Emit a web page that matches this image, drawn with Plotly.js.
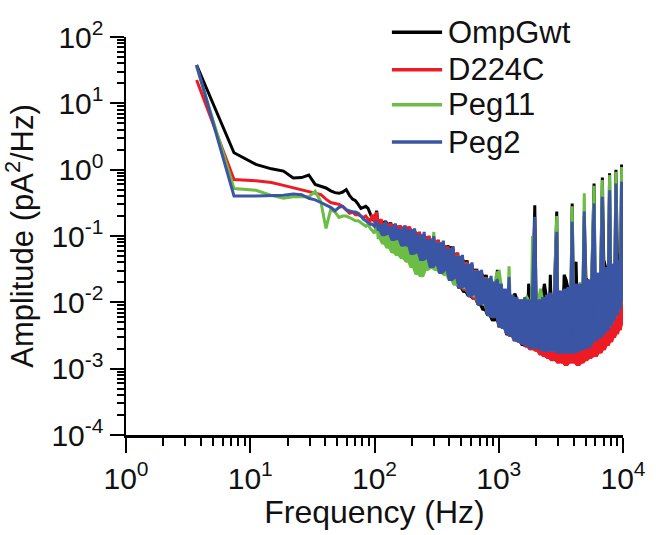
<!DOCTYPE html>
<html><head><meta charset="utf-8">
<script src="https://cdn.plot.ly/plotly-3.0.1.min.js"></script>
<style>html,body{margin:0;padding:0;background:#fff;} #chart{width:656px;height:535px;}</style>
</head><body><div id="chart"></div>
<script>
const seriesNames = ['OmpGwt', 'D224C', 'Peg11', 'Peg2'];
const seriesColors = ['#000000', '#ed1c24', '#6cbd45', '#3b55a5'];

const freqLow = [3.7,7.4,11.1,14.8,18.5,22.2,25.9,29.6,33.3,37,40.7,44.4,48.1,51.8,55.5,59.2,62.9,66.6,70.3,74,77.7,81.4,85.1,88.8,92.5,96.2,99.9];
const freqMid = [104,108,113,118,123,129,135,141,147,154,161,168,176,184,192,201,210,220,230,240,251,262,274,287,300,313,327,342,358,374,391,409,427,447,467,488,510,533,557,583,609,637,665,695,727,760,794,830,867,907,948];
const freqHigh = [975,1010,1050,1090,1130,1170,1210,1260,1300,1350,1400,1450,1510,1560,1620,1680,1740,1810,1870,1950,2020,2090,2170,2250,2330,2420,2510,2600,2700,2800,2930,3010,3120,3240,3360,3480,3610,3750,3900,4040,4190,4350,4510,4680,4880,5030,5220,5410,5610,5850,6030,6250,6480,6820,7000,7260,7520,7800,8020,8320,8530,8770,9000,9250,9500,9750,9950];

const ompLow = [37.8,1.8,1.2,1.03,0.95,0.75,0.76,0.83,0.6,0.56,0.53,0.48,0.45,0.44,0.46,0.5,0.41,0.36,0.34,0.3,0.26,0.27,0.28,0.26,0.22,0.18,0.17];
const ompMid = [0.24,0.13,0.17,0.12,0.17,0.1,0.16,0.075,0.15,0.085,0.14,0.075,0.135,0.065,0.13,0.058,0.12,0.05,0.115,0.045,0.1,0.04,0.1,0.036,0.09,0.032,0.085,0.029,0.075,0.026,0.072,0.022,0.07,0.019,0.056,0.016,0.048,0.014,0.043,0.012,0.037,0.011,0.032,0.009,0.029,0.0075,0.026,0.0062,0.022,0.0052,0.02];
const ompHigh = [0.031,0.0048,0.018,0.004,0.015,0.0032,0.02,0.003,0.012,0.0135,0.011,0.0025,0.01,0.0022,0.011,0.0021,0.019,0.012,0.011,0.29,0.0019,0.011,0.0017,0.012,0.019,0.012,0.0017,0.026,0.0016,0.013,0.233,0.0016,0.014,0.0017,0.026,0.022,0.016,0.0016,0.31,0.0017,0.041,0.0018,0.018,0.0018,0.2,0.023,0.021,0.014,0.024,0.62,0.0024,0.027,0.0027,0.76,0.044,0.033,0.0034,0.88,0.004,0.037,0.0046,1.0,0.055,0.042,0.0072,1.2,0.01];

const d224Low = [22.5,0.71,0.68,0.64,0.58,0.53,0.5,0.47,0.44,0.42,0.36,0.32,0.31,0.3,0.28,0.25,0.22,0.23,0.21,0.21,0.2,0.19,0.2,0.18,0.17,0.21,0.16];
const d224Mid = [0.23,0.13,0.18,0.115,0.16,0.1,0.155,0.09,0.15,0.085,0.145,0.08,0.14,0.07,0.14,0.06,0.125,0.052,0.115,0.046,0.105,0.042,0.1,0.037,0.092,0.034,0.088,0.03,0.08,0.027,0.07,0.023,0.066,0.02,0.055,0.017,0.048,0.015,0.041,0.013,0.036,0.011,0.031,0.0095,0.028,0.009,0.024,0.0065,0.021,0.0058,0.019];
const d224High = [0.02,0.0042,0.018,0.004,0.015,0.0033,0.016,0.003,0.012,0.0026,0.011,0.0025,0.011,0.0023,0.011,0.0021,0.011,0.0019,0.011,0.1,0.0018,0.011,0.0016,0.012,0.0015,0.012,0.0014,0.013,0.0013,0.013,0.08,0.0012,0.014,0.0012,0.015,0.0011,0.016,0.0012,0.1,0.0012,0.017,0.0011,0.018,0.0012,0.12,0.0013,0.02,0.0014,0.022,0.15,0.0015,0.025,0.0017,0.18,0.0019,0.03,0.0022,0.22,0.0025,0.034,0.0029,0.3,0.0033,0.038,0.0038,0.33,0.0045];

const peg11Low = [35.7,0.52,0.49,0.41,0.37,0.39,0.39,0.39,0.47,0.33,0.13,0.25,0.23,0.19,0.2,0.2,0.19,0.18,0.17,0.17,0.16,0.15,0.14,0.15,0.13,0.12,0.11];
const peg11Mid = [0.15,0.09,0.14,0.075,0.13,0.065,0.14,0.055,0.12,0.05,0.13,0.045,0.12,0.04,0.12,0.033,0.11,0.026,0.1,0.024,0.1,0.03,0.09,0.032,0.115,0.03,0.08,0.027,0.065,0.025,0.06,0.021,0.058,0.018,0.05,0.017,0.044,0.016,0.038,0.013,0.034,0.012,0.03,0.0095,0.026,0.009,0.023,0.0065,0.021,0.006,0.024];
const peg11High = [0.028,0.029,0.017,0.0041,0.014,0.0034,0.035,0.0031,0.012,0.0027,0.011,0.0026,0.01,0.0024,0.011,0.012,0.0105,0.0021,0.1,0.02,0.0021,0.011,0.016,0.011,0.0019,0.0085,0.0019,0.013,0.0018,0.013,0.2,0.0018,0.014,0.0018,0.015,0.0018,0.016,0.0018,0.28,0.0018,0.018,0.0019,0.02,0.002,0.44,0.0021,0.021,0.0022,0.024,0.57,0.0027,0.027,0.003,0.7,0.0034,0.032,0.0039,0.83,0.0046,0.037,0.0056,0.93,0.0066,0.042,0.0082,1.1,0.0106];

const peg2Low = [37.8,0.4,0.4,0.4,0.41,0.43,0.42,0.37,0.35,0.32,0.29,0.27,0.24,0.27,0.28,0.25,0.24,0.23,0.23,0.22,0.2,0.18,0.17,0.16,0.15,0.15,0.14];
const peg2Mid = [0.17,0.12,0.15,0.1,0.165,0.105,0.14,0.085,0.155,0.088,0.13,0.07,0.145,0.07,0.125,0.052,0.13,0.055,0.105,0.042,0.115,0.045,0.09,0.033,0.1,0.036,0.08,0.027,0.085,0.03,0.065,0.021,0.07,0.023,0.05,0.016,0.052,0.017,0.038,0.012,0.04,0.013,0.03,0.009,0.031,0.0095,0.023,0.0062,0.025,0.0058,0.02];
const peg2High = [0.022,0.0042,0.019,0.004,0.016,0.0033,0.024,0.003,0.013,0.0026,0.012,0.0025,0.011,0.0023,0.012,0.0022,0.011,0.002,0.012,0.195,0.002,0.011,0.0019,0.012,0.0018,0.013,0.0018,0.014,0.0018,0.013,0.116,0.0017,0.015,0.0017,0.016,0.0017,0.017,0.0017,0.164,0.0017,0.019,0.0018,0.019,0.0019,0.233,0.002,0.022,0.0021,0.025,0.31,0.0026,0.028,0.0029,0.39,0.0033,0.034,0.0038,0.49,0.0045,0.038,0.0055,0.62,0.0065,0.043,0.008,0.66,0.0105];

const xTickVals = [1, 10, 100, 1000, 10000];
const xTickText = ['10<sup>0</sup>', '10<sup>1</sup>', '10<sup>2</sup>', '10<sup>3</sup>', '10<sup>4</sup>'];
const yTickVals = [1e-4, 1e-3, 1e-2, 1e-1, 1, 10, 100];
const yTickText = ['10<sup>-4</sup>', '10<sup>-3</sup>', '10<sup>-2</sup>', '10<sup>-1</sup>', '10<sup>0</sup>', '10<sup>1</sup>', '10<sup>2</sup>'];

function minorVals(lo, hi) {
  const out = [];
  for (let e = lo; e < hi; e++) for (let m = 2; m <= 9; m++) out.push(m * Math.pow(10, e));
  return out;
}

// solid core of the noisy part of a spectrum: from its local troughs up to its local peaks
function noiseBand(x, y, start) {
  const xs = x.slice(start), ys = y.slice(start), n = ys.length;
  const up = [], lo = [];
  for (let i = 0; i < n; i++) {
    const a = ys[Math.max(i - 1, 0)], b = ys[i], c = ys[Math.min(i + 1, n - 1)];
    up.push(Math.min(Math.max(a, b), Math.max(b, c)));
    lo.push(Math.min(a, b, c));
  }
  return {x: xs.concat(xs.slice().reverse()), y: up.concat(lo.slice().reverse())};
}

const freqAll = freqLow.concat(freqMid, freqHigh);
const seriesY = [
  ompLow.concat(ompMid, ompHigh),
  d224Low.concat(d224Mid, d224High),
  peg11Low.concat(peg11Mid, peg11High),
  peg2Low.concat(peg2Mid, peg2High)
];

const traces = [];
seriesNames.forEach((name, i) => {
  const band = noiseBand(freqAll, seriesY[i], freqLow.length);
  traces.push({type: 'scatter', mode: 'lines', x: band.x, y: band.y, fill: 'toself',
    fillcolor: seriesColors[i], line: {width: 0, color: seriesColors[i]}, showlegend: false, hoverinfo: 'skip'});
  traces.push({type: 'scatter', mode: 'lines', name: name, x: freqAll, y: seriesY[i],
    line: {color: seriesColors[i], width: 3}, showlegend: false});
});

const FONT = 'Liberation Sans, Arial, Helvetica, sans-serif';
const axisBase = {
  type: 'log', showline: true, linecolor: '#000', linewidth: 2.5,
  showgrid: false, zeroline: false, ticks: 'outside', ticklen: 15, tickwidth: 2, tickcolor: '#000',
  tickfont: {family: FONT, size: 30, color: '#111'}, tickmode: 'array'
};

// legend drawn in paper coordinates
const legendRowsY = [1.012, 0.918, 0.83, 0.736];
const legendShapes = seriesNames.map((n, i) => ({type: 'line', xref: 'paper', yref: 'paper',
  x0: 0.535, x1: 0.636, y0: legendRowsY[i], y1: legendRowsY[i], line: {color: seriesColors[i], width: 3.5}}));
const legendLabels = seriesNames.map((n, i) => ({xref: 'paper', yref: 'paper', x: 0.643, y: legendRowsY[i],
  xanchor: 'left', yanchor: 'middle', showarrow: false, text: n, font: {family: FONT, size: 31, color: '#111'}}));

const layout = {
  width: 656, height: 535,
  margin: {l: 126, r: 33, t: 37, b: 100},
  paper_bgcolor: '#fff', plot_bgcolor: '#fff',
  font: {family: FONT, color: '#111'},
  showlegend: false,
  shapes: legendShapes,
  annotations: legendLabels,
  xaxis: Object.assign({}, axisBase, {
    range: [0, 4], tickvals: xTickVals, ticktext: xTickText,
    minor: {tickmode: 'array', tickvals: minorVals(0, 4), ticks: 'outside', ticklen: 8, tickwidth: 2, tickcolor: '#000', showgrid: false},
    title: {text: 'Frequency (Hz)', font: {family: FONT, size: 32, color: '#111'}, standoff: 2}
  }),
  yaxis: Object.assign({}, axisBase, {
    range: [-4, 2], tickvals: yTickVals, ticktext: yTickText, ticklen: 14,
    minor: {tickmode: 'array', tickvals: minorVals(-4, 2), ticks: 'outside', ticklen: 7, tickwidth: 2, tickcolor: '#000', showgrid: false},
    title: {text: 'Amplitude (pA<sup>2</sup>/Hz)', font: {family: FONT, size: 31, color: '#111'}, standoff: 10}
  })
};

Plotly.newPlot('chart', traces, layout, {staticPlot: true, displayModeBar: false});
</script>
</body></html>
